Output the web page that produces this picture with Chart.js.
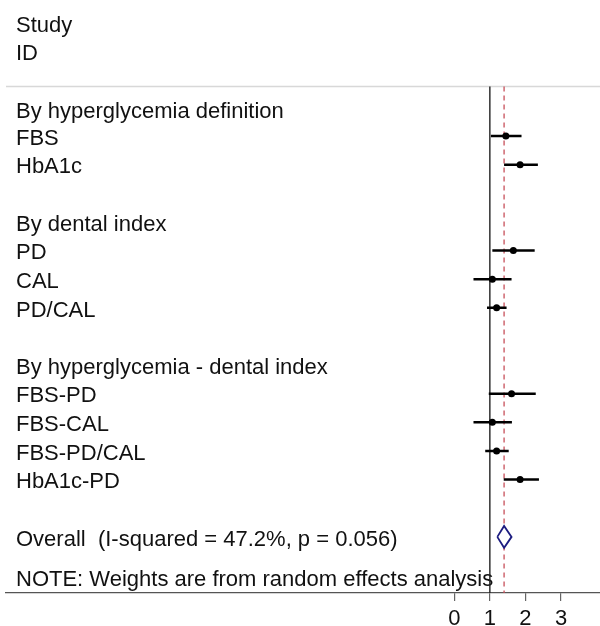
<!DOCTYPE html>
<html>
<head>
<meta charset="utf-8">
<script src="https://cdn.jsdelivr.net/npm/chart.js@4/dist/chart.umd.min.js"></script>
<style>
  html, body { margin: 0; padding: 0; background: #fff; }
  canvas { display: block; }
</style>
</head>
<body>
<canvas id="chart" width="600" height="626"></canvas>
<script>
// study rows (y = row index, top to bottom)
const studyNames = ['FBS', 'HbA1c', 'PD', 'CAL', 'PD/CAL', 'FBS-PD', 'FBS-CAL', 'FBS-PD/CAL', 'HbA1c-PD']
const studyRows  = [4, 5, 8, 9, 10, 13, 14, 15, 16]
const estimates  = [1.45, 1.85, 1.66, 1.07, 1.19, 1.61, 1.07, 1.19, 1.85]
const lowerCI    = [1.03, 1.40, 1.07, 0.54, 0.92, 0.97, 0.54, 0.87, 1.39]
const upperCI    = [1.89, 2.35, 2.26, 1.61, 1.47, 2.29, 1.62, 1.53, 2.38]

// pooled estimate
const overallEst = 1.40
const overallLo  = 1.21
const overallHi  = 1.61
const overallRow = 18

// other text rows
const headerTexts = ['Study', 'ID', 'By hyperglycemia definition', 'By dental index',
    'By hyperglycemia - dental index', 'Overall  (I-squared = 47.2%, p = 0.056)',
    'NOTE: Weights are from random effects analysis']
const headerRows = [0.07, 1.04, 3.07, 7, 12, 18, 19.4]

const xTicks = [0, 1, 2, 3]
const nullValue = 1

const FONT = "'Liberation Sans', Arial, sans-serif"

// build CI segments, broken with null points
const ciData = []
studyRows.forEach((r, i) => {
    ciData.push({ x: lowerCI[i], y: r })
    ciData.push({ x: upperCI[i], y: r })
    ciData.push({ x: null, y: null })
})
const pointData = studyRows.map((r, i) => ({ x: estimates[i], y: r }))
const dh = 0.38
const diamondData = [
    { x: overallLo, y: overallRow },
    { x: overallEst, y: overallRow - dh },
    { x: overallHi, y: overallRow },
    { x: overallEst, y: overallRow + dh },
    { x: overallLo, y: overallRow }
]

// labels + reference lines
const forestPlugin = {
    id: 'forest',
    beforeDatasetsDraw(chart) {
        const { ctx, chartArea, scales } = chart
        const xs = scales.x, ys = scales.y
        const sepY = ys.getPixelForValue(2.27)
        ctx.save()
        // separator under header
        ctx.strokeStyle = '#d8d8d8'
        ctx.lineWidth = 1.5
        ctx.beginPath()
        ctx.moveTo(chartArea.left, sepY)
        ctx.lineTo(chartArea.right, sepY)
        ctx.stroke()

        // text column
        ctx.fillStyle = '#111'
        ctx.font = '22px ' + FONT
        ctx.textBaseline = 'alphabetic'
        ctx.textAlign = 'left'
        headerTexts.forEach((t, i) => {
            ctx.fillText(t, 16, ys.getPixelForValue(headerRows[i]) + 8.8)
        })
        studyNames.forEach((t, i) => {
            ctx.fillText(t, 16, ys.getPixelForValue(studyRows[i]) + 8.7)
        })

        // line of no effect
        const x1 = xs.getPixelForValue(nullValue)
        ctx.strokeStyle = '#222'
        ctx.lineWidth = 1.4
        ctx.beginPath()
        ctx.moveTo(x1, sepY)
        ctx.lineTo(x1, chartArea.bottom)
        ctx.stroke()

        // overall estimate, dashed
        const xo = xs.getPixelForValue(overallEst)
        ctx.strokeStyle = '#c8505a'
        ctx.lineWidth = 1.3
        ctx.setLineDash([5, 4])
        ctx.beginPath()
        ctx.moveTo(xo, sepY)
        ctx.lineTo(xo, chartArea.bottom)
        ctx.stroke()
        ctx.restore()
    }
}

new Chart(document.querySelector('#chart'), {
    type: 'scatter',
    data: {
        datasets: [
            {
                data: ciData,
                showLine: true,
                spanGaps: false,
                borderColor: '#000',
                borderWidth: 2.5,
                pointRadius: 0
            },
            {
                data: pointData,
                pointRadius: 3.5,
                pointBackgroundColor: '#000',
                pointBorderColor: '#000',
                pointBorderWidth: 0
            },
            {
                data: diamondData,
                showLine: true,
                fill: 'shape',
                backgroundColor: '#fff',
                borderColor: '#1c1c80',
                borderWidth: 1.8,
                borderJoinStyle: 'miter',
                pointRadius: 0
            }
        ]
    },
    options: {
        responsive: false,
        animation: false,
        layout: { autoPadding: false, padding: { left: 6, right: 0, top: 0, bottom: 0 } },
        plugins: { legend: { display: false }, tooltip: { enabled: false } },
        scales: {
            x: {
                type: 'linear',
                min: -12.6,
                max: 4.096,
                afterBuildTicks: s => { s.ticks = xTicks.map(v => ({ value: v })) },
                afterFit: s => {
                    s.height = 33
                    s.paddingLeft = 0
                    s.paddingRight = 0
                },
                border: { display: true, color: '#555', width: 1.3 },
                grid: { drawOnChartArea: false, drawTicks: true, tickLength: 8, color: '#666', lineWidth: 1.2 },
                ticks: { color: '#111', padding: 5, maxRotation: 0, autoSkip: false,
                    font: { family: FONT, size: 22 } }
            },
            y: {
                type: 'linear',
                display: false,
                reverse: true,
                min: -0.751,
                max: 19.96
            }
        }
    },
    plugins: [forestPlugin]
})
</script>
</body>
</html>
